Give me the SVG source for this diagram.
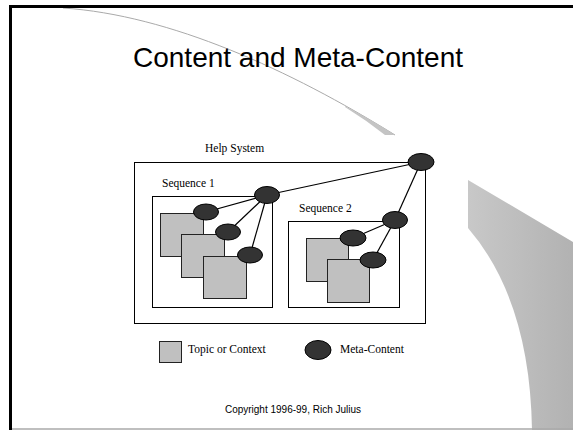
<svg xmlns="http://www.w3.org/2000/svg" width="573" height="430" viewBox="0 0 573 430">
<defs>
<linearGradient id="sw" x1="0" y1="0" x2="1" y2="0">
<stop offset="0" stop-color="#c8c8c8"/>
<stop offset="1" stop-color="#b2b2b2"/>
</linearGradient>
<style>
.lbl{font-family:"Liberation Serif","Times New Roman",serif;font-size:11.5px;fill:#000}
.box{fill:none;stroke:#000;stroke-width:1}
.topic{fill:#c0c0c0;stroke:#222;stroke-width:1}
.meta{fill:#333;stroke:#000;stroke-width:1}
.con{stroke:#000;stroke-width:1.2;fill:none}
</style>
</defs>
<rect width="573" height="430" fill="#fff"/>
<!-- background swooshes -->
<path d="M468,180 L573,242 L573,430 L532,430 Q530,300 468,228 Z" fill="url(#sw)"/>
<path d="M63,8 C170,15 290,70 395,135" fill="none" stroke="#aaa" stroke-width="1"/>
<path d="M345,106 Q372,120 395,135 L385,135 Q366,120 345,107 Z" fill="#c4c4c4"/>
<!-- frame -->
<line x1="9" y1="6.5" x2="573" y2="6.5" stroke="#000" stroke-width="3"/>
<line x1="10.5" y1="5" x2="10.5" y2="430" stroke="#000" stroke-width="3"/>
<line x1="12" y1="429" x2="573" y2="429" stroke="#aaa" stroke-width="1.5"/>
<text x="298" y="67" text-anchor="middle" font-family="'Liberation Sans',Arial,sans-serif" font-size="28">Content and Meta-Content</text>
<g id="help-system">
<rect class="box" x="134.5" y="162.5" width="291" height="161"/>
<text class="lbl" x="205" y="152">Help System</text>
</g>
<g id="sequence-1">
<rect class="box" x="152.5" y="196.5" width="120" height="111"/>
<text class="lbl" x="162" y="187">Sequence 1</text>
</g>
<g id="sequence-2">
<rect class="box" x="288.5" y="221.5" width="111" height="86"/>
<text class="lbl" x="299" y="212">Sequence 2</text>
</g>
<g id="topic-1"><rect class="topic" x="160.5" y="213.5" width="43" height="43"/></g>
<g id="topic-2"><rect class="topic" x="181.5" y="234.5" width="43" height="43"/></g>
<g id="topic-3"><rect class="topic" x="203.5" y="256.5" width="43" height="42"/></g>
<g id="topic-4"><rect class="topic" x="306.5" y="238.5" width="42" height="43"/></g>
<g id="topic-5"><rect class="topic" x="327.5" y="259.5" width="42" height="43"/></g>
<g id="connectors">
<line class="con" x1="421" y1="162" x2="267" y2="195"/>
<line class="con" x1="421" y1="162" x2="395" y2="220"/>
<line class="con" x1="267" y1="195" x2="206" y2="212"/>
<line class="con" x1="267" y1="195" x2="228" y2="232"/>
<line class="con" x1="267" y1="195" x2="250" y2="255"/>
<line class="con" x1="395" y1="220" x2="353" y2="238"/>
<line class="con" x1="395" y1="220" x2="373" y2="260"/>
</g>
<g id="meta-help"><ellipse class="meta" cx="421" cy="162" rx="13" ry="8.5"/></g>
<g id="meta-seq1"><ellipse class="meta" cx="267" cy="195" rx="12.5" ry="8.5"/></g>
<g id="meta-seq2"><ellipse class="meta" cx="395" cy="220" rx="12.5" ry="8.5"/></g>
<g id="meta-1"><ellipse class="meta" cx="206" cy="212" rx="12.5" ry="8"/></g>
<g id="meta-2"><ellipse class="meta" cx="228" cy="232" rx="12.5" ry="8"/></g>
<g id="meta-3"><ellipse class="meta" cx="250" cy="255" rx="12.5" ry="8"/></g>
<g id="meta-4"><ellipse class="meta" cx="353" cy="238" rx="13" ry="8"/></g>
<g id="meta-5"><ellipse class="meta" cx="373" cy="260" rx="13" ry="8"/></g>
<g id="legend-topic">
<rect class="topic" x="159.5" y="341.5" width="22" height="21"/>
<text class="lbl" x="188" y="353">Topic or Context</text>
</g>
<g id="legend-meta">
<ellipse class="meta" cx="318" cy="350" rx="13" ry="9.5"/>
<text class="lbl" x="340" y="353">Meta-Content</text>
</g>
<text x="293" y="413" text-anchor="middle" font-family="'Liberation Sans',Arial,sans-serif" font-size="10">Copyright 1996-99, Rich Julius</text>
</svg>
